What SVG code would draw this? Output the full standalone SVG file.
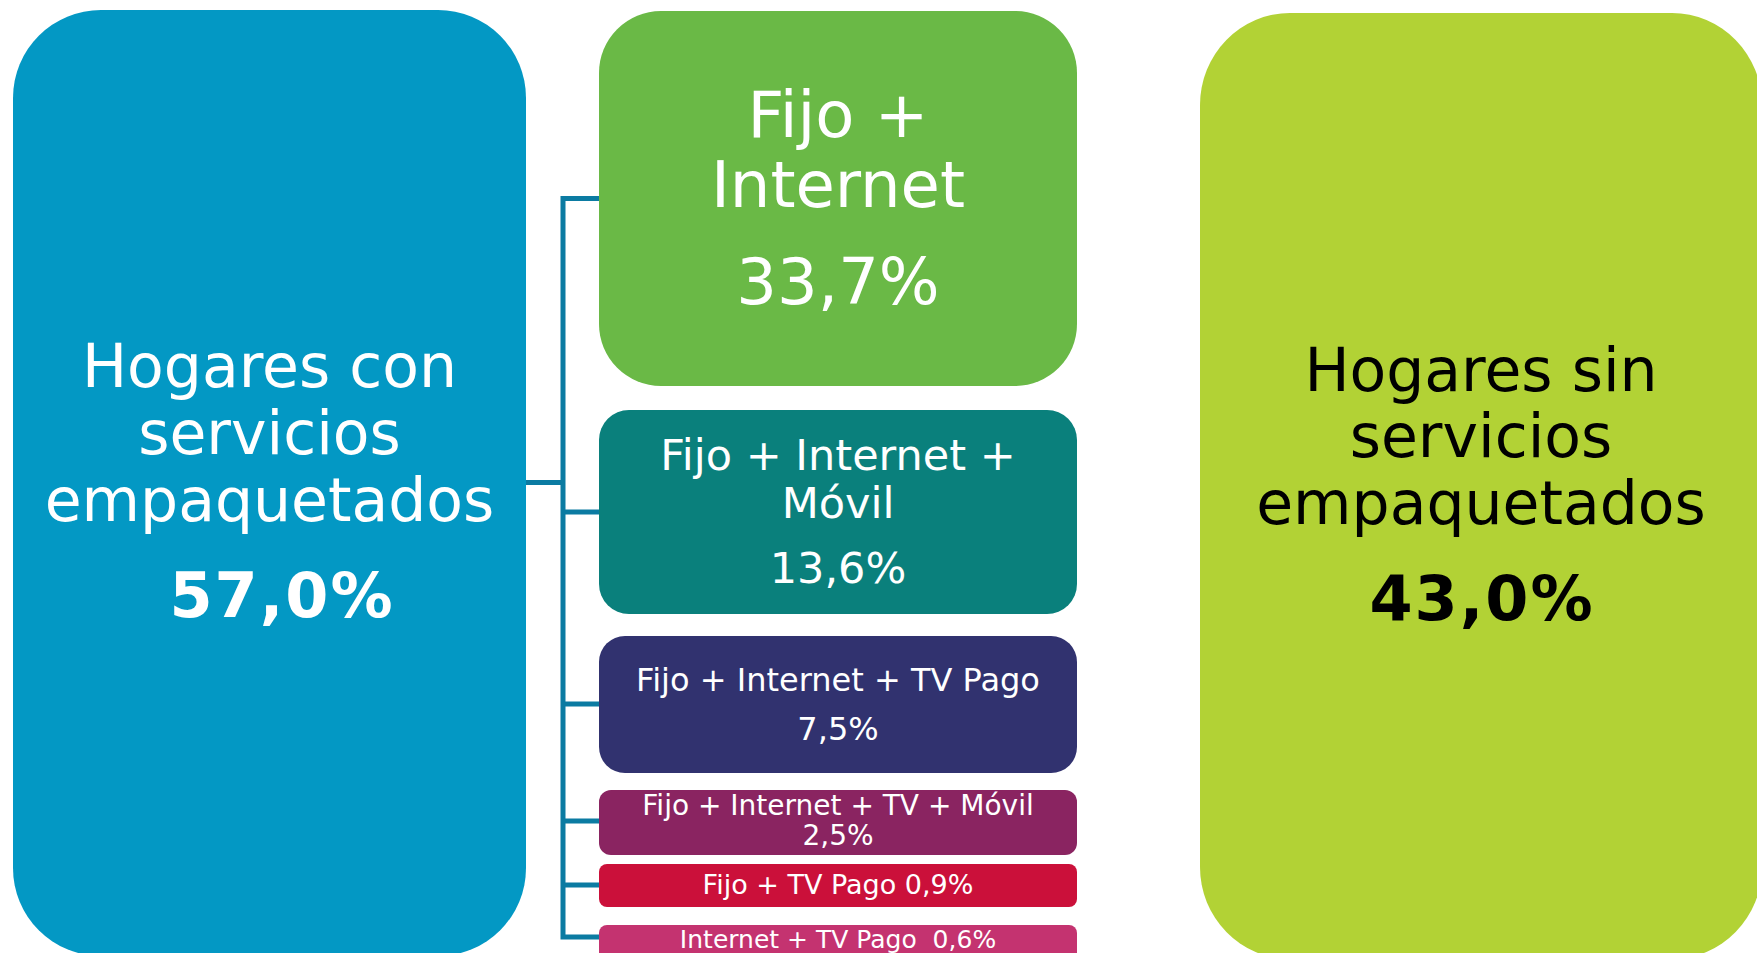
<svg xmlns="http://www.w3.org/2000/svg" width="1757" height="953" viewBox="0 0 1757 953">
<style>
text{font-family:"DejaVu Sans",Verdana,"Noto Sans",sans-serif;text-anchor:middle;fill:#fff}
.dark{fill:#000}
.b{font-weight:bold;letter-spacing:2px}
.conn{stroke:#0B7BA2;stroke-width:5;fill:none;stroke-linejoin:miter}
</style>
<rect width="1757" height="953" fill="#fff"/>
<g id="connectors">
<path class="conn" d="M526 482.5H563"/>
<path class="conn" d="M599 198.5H563V937H599"/>
<path class="conn" d="M563 512H599M563 704H599M563 821H599M563 885H599"/>
</g>
<g id="con-servicios">
<rect x="13" y="10" width="513" height="946" rx="88" ry="88" fill="#0398C4"/>
<text x="269.5" y="387" font-size="60">Hogares con</text>
<text x="269.5" y="454" font-size="60">servicios</text>
<text x="269.5" y="521" font-size="60">empaquetados</text>
<text x="282" y="617" font-size="62" class="b">57,0%</text>
</g>
<g id="fijo-internet">
<rect x="599" y="11" width="478" height="375" rx="62" ry="62" fill="#6AB946"/>
<text x="838" y="137" font-size="64">Fijo +</text>
<text x="838" y="207" font-size="64">Internet</text>
<text x="838" y="304" font-size="64">33,7%</text>
</g>
<g id="fijo-internet-movil">
<rect x="599" y="410" width="478" height="204" rx="30" ry="30" fill="#0A807C"/>
<text x="838" y="470" font-size="43">Fijo + Internet +</text>
<text x="838" y="518" font-size="43">Móvil</text>
<text x="838" y="583" font-size="43">13,6%</text>
</g>
<g id="fijo-internet-tv">
<rect x="599" y="636" width="478" height="137" rx="26" ry="26" fill="#31326F"/>
<text x="838" y="691" font-size="32">Fijo + Internet + TV Pago</text>
<text x="838" y="740" font-size="32">7,5%</text>
</g>
<g id="fijo-internet-tv-movil">
<rect x="599" y="790" width="478" height="65" rx="12" ry="12" fill="#8A2461"/>
<text x="838" y="815" font-size="28">Fijo + Internet + TV + Móvil</text>
<text x="838" y="845" font-size="28">2,5%</text>
</g>
<g id="fijo-tv">
<rect x="599" y="864" width="478" height="43" rx="8" ry="8" fill="#CB103A"/>
<text x="838" y="894" font-size="27">Fijo + TV Pago 0,9%</text>
</g>
<g id="internet-tv">
<rect x="599" y="925" width="478" height="40" rx="8" ry="8" fill="#C43370"/>
<text x="838" y="948" font-size="25">Internet + TV Pago&#160; 0,6%</text>
</g>
<g id="sin-servicios">
<rect x="1200" y="13" width="562" height="946" rx="90" ry="92" fill="#B2D235"/>
<text class="dark" x="1481" y="391" font-size="60">Hogares sin</text>
<text class="dark" x="1481" y="457" font-size="60">servicios</text>
<text class="dark" x="1481" y="524" font-size="60">empaquetados</text>
<text class="dark b" x="1482" y="620" font-size="62">43,0%</text>
</g>
</svg>
